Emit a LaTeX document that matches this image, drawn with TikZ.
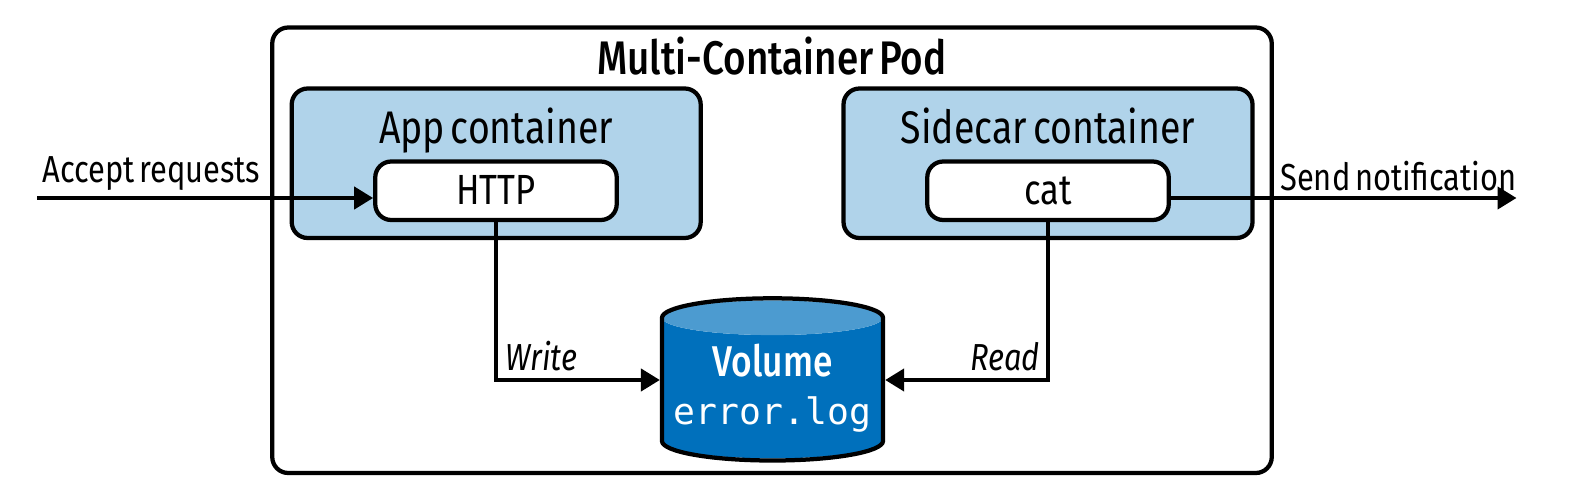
\documentclass[tikz,border=0pt]{standalone}
\usepackage{fontspec}
\setmainfont{Fira Sans}[FakeStretch=0.82,WordSpace=0.6]
\newfontfamily\medfont{Fira Sans Medium}[FakeStretch=0.82,WordSpace=0.6]
\setmonofont{DejaVu Sans Mono}
\usetikzlibrary{shapes.geometric}
\usetikzlibrary{arrows.meta}
\definecolor{contblue}{HTML}{B0D3EA}
\definecolor{volblue}{HTML}{0070BC}
\definecolor{volend}{HTML}{4C9BD0}
\tikzset{
    podbox/.style = {rectangle, rounded corners=0.32cm, line width=0.085cm, draw=black, minimum width=19.99cm, minimum height=8.91cm, inner sep=0pt},
    contbox/.style = {rectangle, rounded corners=0.32cm, line width=0.085cm, draw=black, fill=contblue, minimum width=8.18cm, minimum height=2.99cm, inner sep=0pt},
    procbox/.style = {rectangle, rounded corners=0.32cm, line width=0.085cm, draw=black, fill=white, minimum width=4.83cm, minimum height=1.17cm, inner sep=0pt, text height=0.53cm, text depth=0pt, font=\fontsize{24}{28}\selectfont},
    volnode/.style = {cylinder, shape border rotate=90, aspect=0.176, cylinder uses custom fill, cylinder body fill=volblue, cylinder end fill=volend, minimum width=4.42cm, minimum height=3.16cm, inner sep=0pt, outer sep=0pt, text=white, align=center},
    voledge/.style = {line width=0.085cm, draw=black},
    titletext/.style = {inner sep=0pt, anchor=base, font=\fontsize{26}{30}\selectfont},
    edgetext/.style = {inner sep=0pt, font=\fontsize{21.4}{25}\selectfont},
    edgen/.style = {-{Triangle[length=0.38cm,width=0.44cm]}, line width=0.085cm},
}
\begin{document}
\begin{tikzpicture}
  \useasboundingbox (0,0) rectangle (31.82,9.72);

  \node[podbox] (pod) at (15.44,4.715) {};
  \node[contbox] (app) at (9.924,6.455) {};
  \node[contbox] (sidecar) at (20.96,6.455) {};
  \node[procbox] (http) at (9.92,5.905) {HTTP};
  \node[procbox] (cat) at (20.96,5.905) {cat};
  \node[volnode] (volume) at (15.45,1.955) {{\medfont\fontsize{24.5}{28}\selectfont Volume}\\[0.36cm]{\ttfamily\fontsize{20.7}{21}\selectfont error.log}};
  % outline only, the shape itself would also stroke the front of the top end
  \draw[voledge] (volume.after top) arc[start angle=0,end angle=180,x radius=2.21cm,y radius=0.389cm]
    -- (volume.after bottom) arc[start angle=180,end angle=360,x radius=2.21cm,y radius=0.389cm] -- cycle;

  \node[titletext, font=\medfont\fontsize{26.8}{31}\selectfont] (podtitle) at (15.44,8.22) {Multi-Container Pod};
  \node[titletext] (apptitle) at (9.92,6.86) {App container};
  \node[titletext] (sidecartitle) at (20.96,6.86) {Sidecar container};

  \node[edgetext, anchor=base west] (accepttext) at (0.84,6.08) {Accept requests};
  \node[edgetext, anchor=base west] (sendtext) at (25.6,5.92) {Send notification};
  \node[edgetext, anchor=base west, font=\itshape\fontsize{21.4}{25}\selectfont] (writetext) at (10.1,2.32) {Write};
  \node[edgetext, anchor=base east, font=\itshape\fontsize{21.4}{25}\selectfont] (readtext) at (20.8,2.32) {Read};

  \coordinate (acceptin) at (0.74,5.76);
  \coordinate (sendout) at (30.33,5.76);

  \draw[edgen] (acceptin) -- (acceptin -| http.west);
  \draw[edgen] (cat.east |- sendout) -- (sendout);
  \draw[edgen, shorten >=0.0425cm] (http.south) |- ([yshift=0.165cm]volume.west);
  \draw[edgen, shorten >=0.0425cm] (cat.south) |- ([yshift=0.165cm]volume.east);
\end{tikzpicture}
\end{document}
